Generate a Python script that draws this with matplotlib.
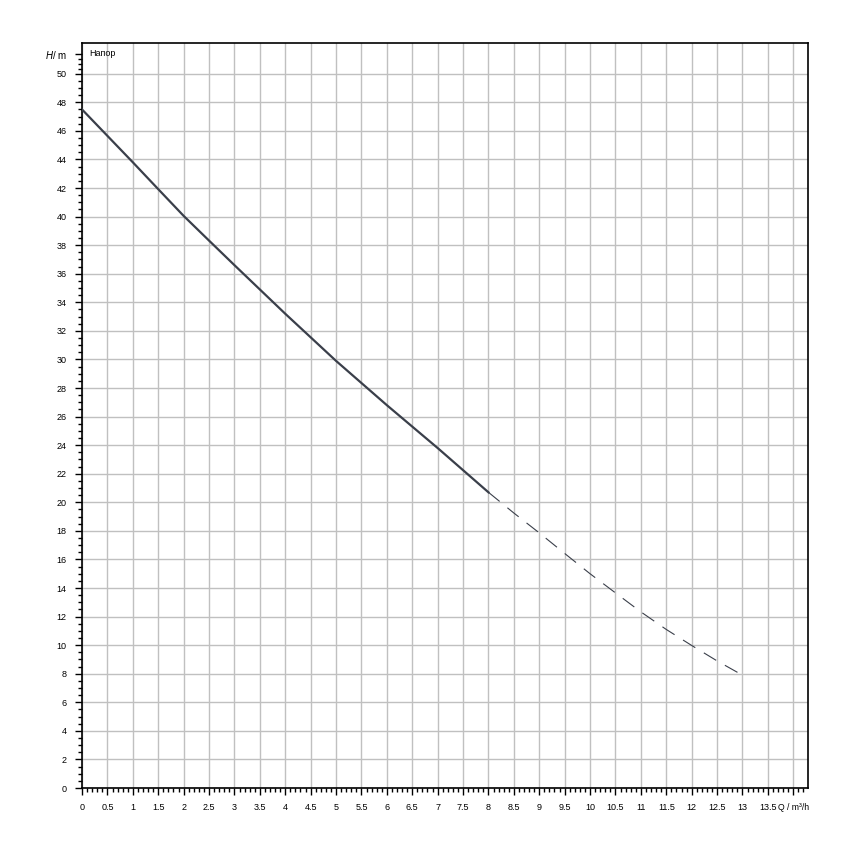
import numpy as np
import matplotlib
matplotlib.use('Agg')
import matplotlib.pyplot as plt

plt.rcParams['font.family'] = ['Liberation Sans', 'DejaVu Sans']
plt.rcParams['mathtext.fontset'] = 'custom'
plt.rcParams['mathtext.it'] = 'Liberation Sans:italic'

# pump curve, solid part (operating range)
qSolid = [0, 0.5, 1, 1.5, 2, 2.5, 3, 3.5, 4, 4.5, 5, 5.5, 6, 6.5, 7, 7.5, 8]
hSolid = [47.5, 45.65, 43.8, 41.92, 40.05, 38.32, 36.6, 34.9, 33.2, 31.55,
          29.9, 28.35, 26.8, 25.3, 23.8, 22.25, 20.7]
# dashed continuation
qDash = [8, 8.5, 9, 9.5, 10, 10.5, 11, 11.5, 12, 12.5, 13]
hDash = [20.7, 19.25, 17.86, 16.42, 15.0, 13.66, 12.33, 11.1, 9.98, 8.9, 7.9]

xTicks = list(np.arange(0, 14.5, 0.5))
xLabels = ['%g' % v for v in xTicks[:-1]] + ['Q / m³/h']
yTicks = list(np.arange(0, 51, 2)) + [51.4]
yLabels = ['%d' % v for v in yTicks[:-1]] + ['$H$/ m']
yMinor = list(np.arange(0, 50.01, 0.5)) + [50.35, 50.7, 51.05]

fig = plt.figure(figsize=(8.5, 8.5), dpi=100)
ax = fig.add_axes([0.0965, 0.0729, 0.8541, 0.8765])

lineColor = '#3a3f4a'
ax.plot(qSolid, hSolid, '-', color=lineColor, linewidth=1.6, zorder=3)
ax.plot(qDash, hDash, color=lineColor, linewidth=0.8, dashes=(13, 9), zorder=3)

ax.set_xlim(0, 14.29)
ax.set_ylim(0, 52.15)

ax.set_xticks(xTicks)
ax.set_xticklabels(xLabels)
ax.set_xticks(np.arange(0, 14.25, 0.1), minor=True)
ax.set_yticks(yTicks)
ax.set_yticklabels(yLabels)
ax.set_yticks(yMinor, minor=True)
ax.tick_params(which='major', length=5, width=1, labelsize=6.5, pad=6)
ax.tick_params(which='minor', length=3, width=1)
ax.get_xticklabels()[-1].set_fontsize(6.2)
ax.get_yticklabels()[-1].set_fontsize(7)

ax.grid(True, which='major', color='#c0c0c0', linewidth=1)
ax.yaxis.get_gridlines()[-1].set_visible(False)
ax.set_axisbelow(True)
for s in ax.spines.values():
    s.set_linewidth(1.2)

ax.text(0.15, 51.4, 'Напор', fontsize=6.5, va='center', ha='left')

fig.savefig('out.png', dpi=100)
